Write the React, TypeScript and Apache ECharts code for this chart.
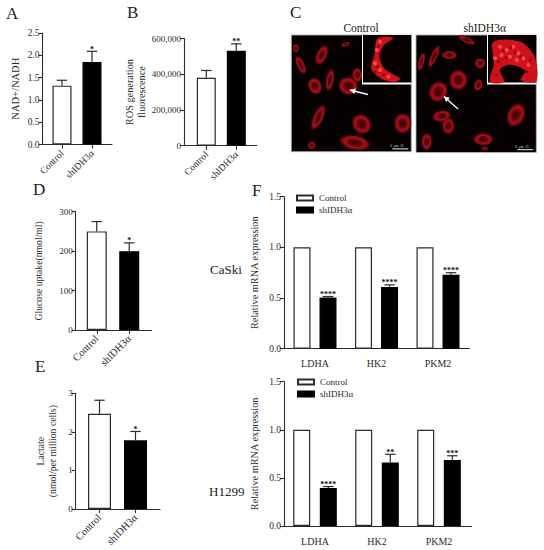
import React, { useEffect, useRef } from "react";
import * as echarts from "echarts";

const FONT = "'Liberation Serif', 'Times New Roman', serif";
const INK = "#2b2b2b";

const groups = ["Control", "shIDH3α"];
const genes = ["LDHA", "HK2", "PKM2"];

const nadValues = [1.32, 1.85];
const nadErrTop = [1.44, 2.09];
const nadStars = ["", "*"];

const rosValues = [380000, 531000];
const rosErrTop = [421000, 570000];
const rosStars = ["", "**"];

const glucoseValues = [250, 200];
const glucoseErrTop = [275, 221];
const glucoseStars = ["", "*"];

const lactateValues = [2.47, 1.78];
const lactateErrTop = [2.82, 2.01];
const lactateStars = ["", "*"];

const caskiControl = [1, 1, 1];
const caskiSh = [0.505, 0.61, 0.73];
const caskiErrTop = [0.515, 0.63, 0.75];
const caskiStars = ["****", "****", "****"];

const h1299Control = [1, 1, 1];
const h1299Sh = [0.395, 0.66, 0.685];
const h1299ErrTop = [0.41, 0.745, 0.73];
const h1299Stars = ["****", "**", "***"];

// Micrograph sketch, in units of a 3x crop of the page (cx, cy, rx, ry, angle in degrees)
const controlCells = [
  [62, 195, 13, 32, -25], [125, 165, 17, 34, 25], [105, 258, 22, 28, -25], [150, 240, 13, 36, 10],
  [205, 258, 32, 30, 20], [232, 225, 17, 24, 0], [115, 352, 16, 44, 25], [245, 372, 30, 34, -35],
  [368, 370, 28, 33, 0], [225, 428, 50, 24, 10], [95, 436, 13, 13, 0], [197, 133, 14, 7, -20],
  [48, 145, 10, 14, 0],
];
const shCells = [
  [424, 185, 10, 30, 15], [462, 170, 11, 40, 25], [508, 165, 25, 14, 0], [535, 240, 30, 33, 0],
  [600, 190, 17, 17, 0], [475, 275, 30, 34, 30], [595, 255, 14, 20, 15], [485, 348, 30, 18, -10],
  [505, 378, 20, 27, 0], [708, 345, 28, 40, 25], [610, 418, 32, 20, 0], [440, 425, 17, 28, 0],
  [560, 120, 30, 10, 25], [615, 446, 10, 6, 0],
];
const controlInsetShape = [
  [292, 116], [340, 114], [312, 135], [298, 170], [316, 208], [360, 236], [342, 246],
  [304, 236], [274, 208], [284, 160],
];
const shInsetShape = [
  [640, 126], [722, 126], [766, 175], [768, 246], [722, 240], [736, 212], [692, 194],
  [660, 208], [672, 246], [630, 246], [642, 190],
];
const shInsetLight = [
  [660, 140], [680, 150], [700, 140], [715, 160], [690, 170], [665, 165], [730, 175], [645, 175],
  [710, 180], [745, 195],
];
const shInsetDark = [
  [670, 152], [692, 142], [705, 158], [678, 172], [722, 170], [655, 185], [740, 215], [752, 180], [650, 225],
];
const controlInsetLight = [[300, 125], [290, 150], [285, 190], [300, 210], [325, 230]];
const controlInsetDark = [[296, 140], [280, 175], [292, 200], [312, 225], [285, 215], [300, 160]];

const px = (v: number) => 280 + v / 3;
const py = (v: number) => v / 3;

function errorSeries(xIdx: number, yIdx: number, tops: number[], bases: number[], stars: string[], offset: number) {
  return {
    type: "custom",
    xAxisIndex: xIdx,
    yAxisIndex: yIdx,
    z: 5,
    silent: true,
    clip: false,
    data: tops.map((t, i) => [i, bases[i], t, stars[i]]),
    renderItem: (_p: any, api: any) => {
      const i = api.value(0);
      const band = api.size([1, 0])[0];
      const x = api.coord([i, 0])[0] + offset * band;
      const y0 = api.coord([i, api.value(1)])[1];
      const y1 = api.coord([i, api.value(2)])[1];
      const star = stars[i];
      const style = { stroke: INK, lineWidth: 1.2 };
      const children: any[] = [
        { type: "line", shape: { x1: x, y1: y0, x2: x, y2: y1 }, style },
        { type: "line", shape: { x1: x - 5.2, y1, x2: x + 5.2, y2: y1 }, style },
      ];
      if (star) {
        children.push({
          type: "text",
          style: {
            text: star, x, y: y1 + 2, fill: "#111", align: "center", verticalAlign: "bottom",
            font: `bold 8px ${FONT}`,
          },
        });
      }
      return { type: "group", children };
    },
  };
}

function buildOption() {
  const grid: any[] = [], xAxis: any[] = [], yAxis: any[] = [], series: any[] = [];

  const addPanel = (p: any) => {
    const idx = grid.length;
    // frame grid: holds the value axis and the full-length baseline
    grid.push({ left: p.frameLeft, top: p.top, width: p.frameRight - p.frameLeft, height: p.bottom - p.top });
    xAxis.push({
      gridIndex: idx, type: "value", min: 0, max: 1,
      axisLine: { show: true, onZero: false, lineStyle: { color: INK, width: 1.1 } },
      axisTick: { show: false }, axisLabel: { show: false }, splitLine: { show: false },
    });
    yAxis.push({
      gridIndex: idx, type: "value", min: 0, max: p.max, interval: p.interval,
      axisLine: { show: true, lineStyle: { color: INK, width: 1.1 } },
      axisTick: { show: true, length: 4, lineStyle: { color: INK, width: 1.1 } },
      axisLabel: {
        margin: 3, fontFamily: FONT, fontSize: p.tickSize ?? 9.5, color: INK,
        formatter: p.format,
      },
      splitLine: { show: false },
      name: p.yName, nameLocation: "middle", nameGap: p.nameGap, nameRotate: 90,
      nameTextStyle: { fontFamily: FONT, fontSize: p.nameSize ?? 10.3, color: INK, lineHeight: p.nameLine ?? 12 },
    });
    // bar grid: same vertical scale, bands placed under the bars
    grid.push({ left: p.barLeft, top: p.top, width: p.barRight - p.barLeft, height: p.bottom - p.top });
    xAxis.push({
      gridIndex: idx + 1, type: "category", data: p.categories,
      axisLine: { show: false },
      axisTick: { show: !p.grouped, alignWithLabel: true, length: 4, lineStyle: { color: INK, width: 1.1 } },
      axisLabel: p.grouped
        ? { margin: 10, fontFamily: FONT, fontSize: 10, color: INK, interval: 0 }
        : { rotate: 45, margin: 7, fontFamily: FONT, fontSize: p.catSize ?? 9.6, color: INK, interval: 0 },
      splitLine: { show: false },
    });
    yAxis.push({ gridIndex: idx + 1, type: "value", min: 0, max: p.max, interval: p.interval, show: false, splitLine: { show: false } });

    const white = { color: "#fff", borderColor: INK, borderWidth: 1.2 };
    const black = { color: "#000", borderColor: "#000", borderWidth: 1.2 };
    if (p.grouped) {
      const gapRatio = p.gap / p.barWidth;
      const off = (p.barWidth + p.gap) / 2 / ((p.barRight - p.barLeft) / p.categories.length);
      series.push({
        type: "bar", name: groups[0], xAxisIndex: idx + 1, yAxisIndex: idx + 1, data: p.control,
        barWidth: p.barWidth, barGap: `${gapRatio * 100}%`, itemStyle: white,
      });
      series.push({
        type: "bar", name: groups[1], xAxisIndex: idx + 1, yAxisIndex: idx + 1, data: p.sh,
        barWidth: p.barWidth, barGap: `${gapRatio * 100}%`, itemStyle: black,
      });
      series.push(errorSeries(idx + 1, idx + 1, p.errTop, p.sh, p.stars, off));
    } else {
      series.push({
        type: "bar", xAxisIndex: idx + 1, yAxisIndex: idx + 1, barWidth: p.barWidth,
        data: p.values.map((v: number, i: number) => ({ value: v, itemStyle: i === 0 ? white : black })),
      });
      series.push(errorSeries(idx + 1, idx + 1, p.errTop, p.values, p.stars, 0));
    }
  };

  const fixed1 = (v: number) => v.toFixed(1);
  const plain = (v: number) => String(v);
  const thousands = (v: number) => v.toLocaleString("en-US");

  addPanel({ frameLeft: 42.5, frameRight: 112, barLeft: 47, barRight: 107, top: 33, bottom: 144.5, max: 2.5, interval: 0.5,
    format: fixed1, yName: "NAD+/NADH", nameGap: 21, nameSize: 10.5, categories: groups, values: nadValues, errTop: nadErrTop, stars: nadStars, barWidth: 19 });
  addPanel({ frameLeft: 184, frameRight: 256.7, barLeft: 191.3, barRight: 251.3, top: 38.5, bottom: 145.7, max: 600000, interval: 200000,
    format: thousands, tickSize: 9, yName: "ROS generation\nfluorescence", nameGap: 35, categories: groups, values: rosValues, errTop: rosErrTop, stars: rosStars, barWidth: 19 });
  addPanel({ frameLeft: 75.7, frameRight: 151.7, barLeft: 80.5, barRight: 145.5, top: 211.7, bottom: 330, max: 300, interval: 100,
    format: plain, tickSize: 9, yName: "Glucose uptake(nmol/ml)", nameGap: 31, nameSize: 9.7, categories: groups, values: glucoseValues, errTop: glucoseErrTop, stars: glucoseStars, barWidth: 20, catSize: 10.4 });
  addPanel({ frameLeft: 75.7, frameRight: 160, barLeft: 81.5, barRight: 153.5, top: 393.3, bottom: 509, max: 3, interval: 1,
    format: plain, tickSize: 9, yName: "Lactate\n(nmol/per million cells)", nameGap: 17, nameSize: 9.7, categories: groups, values: lactateValues, errTop: lactateErrTop, stars: lactateStars, barWidth: 23, catSize: 10.4 });
  addPanel({ grouped: true, frameLeft: 284, frameRight: 469.3, barLeft: 284.25, barRight: 468.75, top: 196.7, bottom: 348.7, max: 1.5, interval: 0.5,
    format: fixed1, yName: "Relative mRNA expression", nameGap: 24, categories: genes, control: caskiControl, sh: caskiSh, errTop: caskiErrTop, stars: caskiStars, barWidth: 17, gap: 9 });
  addPanel({ grouped: true, frameLeft: 284, frameRight: 471.7, barLeft: 284, barRight: 470, top: 381.7, bottom: 526, max: 1.5, interval: 0.5,
    format: fixed1, yName: "Relative mRNA expression", nameGap: 24, categories: genes, control: h1299Control, sh: h1299Sh, errTop: h1299ErrTop, stars: h1299Stars, barWidth: 17, gap: 9.6 });

  const legendBase = {
    orient: "vertical", data: groups, icon: "rect", itemWidth: 16, itemHeight: 5, itemGap: 3, selectedMode: false,
    textStyle: { fontFamily: FONT, fontSize: 9, color: INK, padding: [0, 0, 0, 1] }, padding: 0,
  };

  const txt = (text: string, x: number, y: number, size: number, align = "left") => ({
    type: "text", x, y, silent: true,
    style: { text, fill: "#222", font: `${size}px ${FONT}`, align, verticalAlign: "middle" },
  });

  const cellEl = (c: number[], tx: (v: number) => number) => ({
    type: "ellipse", silent: true, x: tx(c[0]), y: py(c[1]), rotation: (-c[4] * Math.PI) / 180,
    shape: { cx: 0, cy: 0, rx: c[2] / 3, ry: c[3] / 3 },
    style: {
      fill: {
        type: "radial", x: 0.5, y: 0.5, r: 0.5,
        colorStops: [
          { offset: 0, color: "#3e0407" }, { offset: 0.35, color: "#58060b" },
          { offset: 0.6, color: "#a81019" }, { offset: 0.78, color: "#7c0a11" },
          { offset: 1, color: "rgba(60,0,3,0)" },
        ],
      },
    },
  });
  const spot = (s: number[], r: number, fill: string) => ({
    type: "circle", silent: true, shape: { cx: px(s[0]), cy: py(s[1]), r }, style: { fill },
  });
  const arrow = (x1: number, y1: number, x2: number, y2: number) => {
    const a = Math.atan2(y2 - y1, x2 - x1);
    const head = 6;
    return [
      { type: "line", silent: true, shape: { x1, y1, x2, y2 }, style: { stroke: "#fff", lineWidth: 1.3 } },
      { type: "polygon", silent: true, shape: { points: [
        [x2, y2],
        [x2 - head * Math.cos(a - 0.5), y2 - head * Math.sin(a - 0.5)],
        [x2 - head * Math.cos(a + 0.5), y2 - head * Math.sin(a + 0.5)],
      ] }, style: { fill: "#fff" } },
    ];
  };
  const micro = (x: number, y: number, w: number, h: number, insetX: number, insetBottom: number, cells: number[][], shape: number[][], light: number[][], dark: number[][]) => [
    { type: "rect", silent: true, shape: { x, y, width: w, height: h }, style: { fill: "#060000", stroke: "#b5b5b5", lineWidth: 0.8 } },
    ...cells.map((c) => cellEl(c, px)),
    { type: "rect", silent: true, shape: { x: insetX - 1, y, width: x + w - insetX + 1, height: insetBottom - y + 1 }, style: { fill: "#fff" } },
    { type: "rect", silent: true, shape: { x: insetX, y, width: x + w - insetX, height: insetBottom - y - 1 }, style: { fill: "#0a0000" } },
    { type: "polygon", silent: true, shape: { points: shape.map((p) => [px(p[0]), py(p[1])]), smooth: 0.3 }, style: { fill: "#d0101a" } },
    ...light.map((s) => spot(s, 2, "#ff4a4a")),
    ...dark.map((s) => spot(s, 1.3, "#5a060b")),
    { type: "text", silent: true, x: x + w - 21, y: y + h - 5.3, style: { text: "0  μm  25", fill: "#ddd", font: `3.5px ${FONT}`, verticalAlign: "middle" } },
    { type: "line", silent: true, shape: { x1: x + w - 19, y1: y + h - 2.8, x2: x + w - 3, y2: y + h - 2.8 }, style: { stroke: "#eee", lineWidth: 1 } },
  ];

  const graphic = [
    ...micro(291.3, 35, 120, 116.7, 363, 83.5, controlCells, controlInsetShape, controlInsetLight, controlInsetDark),
    ...micro(416, 35, 120.3, 117.5, 488, 83.5, shCells, shInsetShape, shInsetLight, shInsetDark),
    ...arrow(368, 94.5, 350, 90),
    ...arrow(458, 109, 444, 96.5),
    txt("A", 6, 13, 17), txt("B", 127, 12.5, 17), txt("C", 290, 12.5, 17),
    txt("D", 33, 189, 17), txt("E", 35, 366, 17), txt("F", 252, 190, 17),
    txt("Control", 361, 28, 11.5, "center"), txt("shIDH3α", 484.7, 28, 11.5, "center"),
    txt("CaSki", 210, 269, 13), txt("H1299", 209, 491, 13),
  ];

  return {
    animation: false,
    backgroundColor: "#fff",
    textStyle: { fontFamily: FONT },
    grid, xAxis, yAxis, series,
    legend: [
      { ...legendBase, left: 296, top: 193.5 },
      { ...legendBase, left: 297, top: 377.5 },
    ],
    graphic: { elements: graphic },
  };
}

export default function App() {
  const ref = useRef<HTMLDivElement>(null);
  useEffect(() => {
    const chart = echarts.init(ref.current!, undefined, { renderer: "svg" });
    chart.setOption(buildOption() as any);
    return () => chart.dispose();
  }, []);
  return <div ref={ref} style={{ position: "absolute", left: 0, top: 0, width: 544, height: 550 }} />;
}
